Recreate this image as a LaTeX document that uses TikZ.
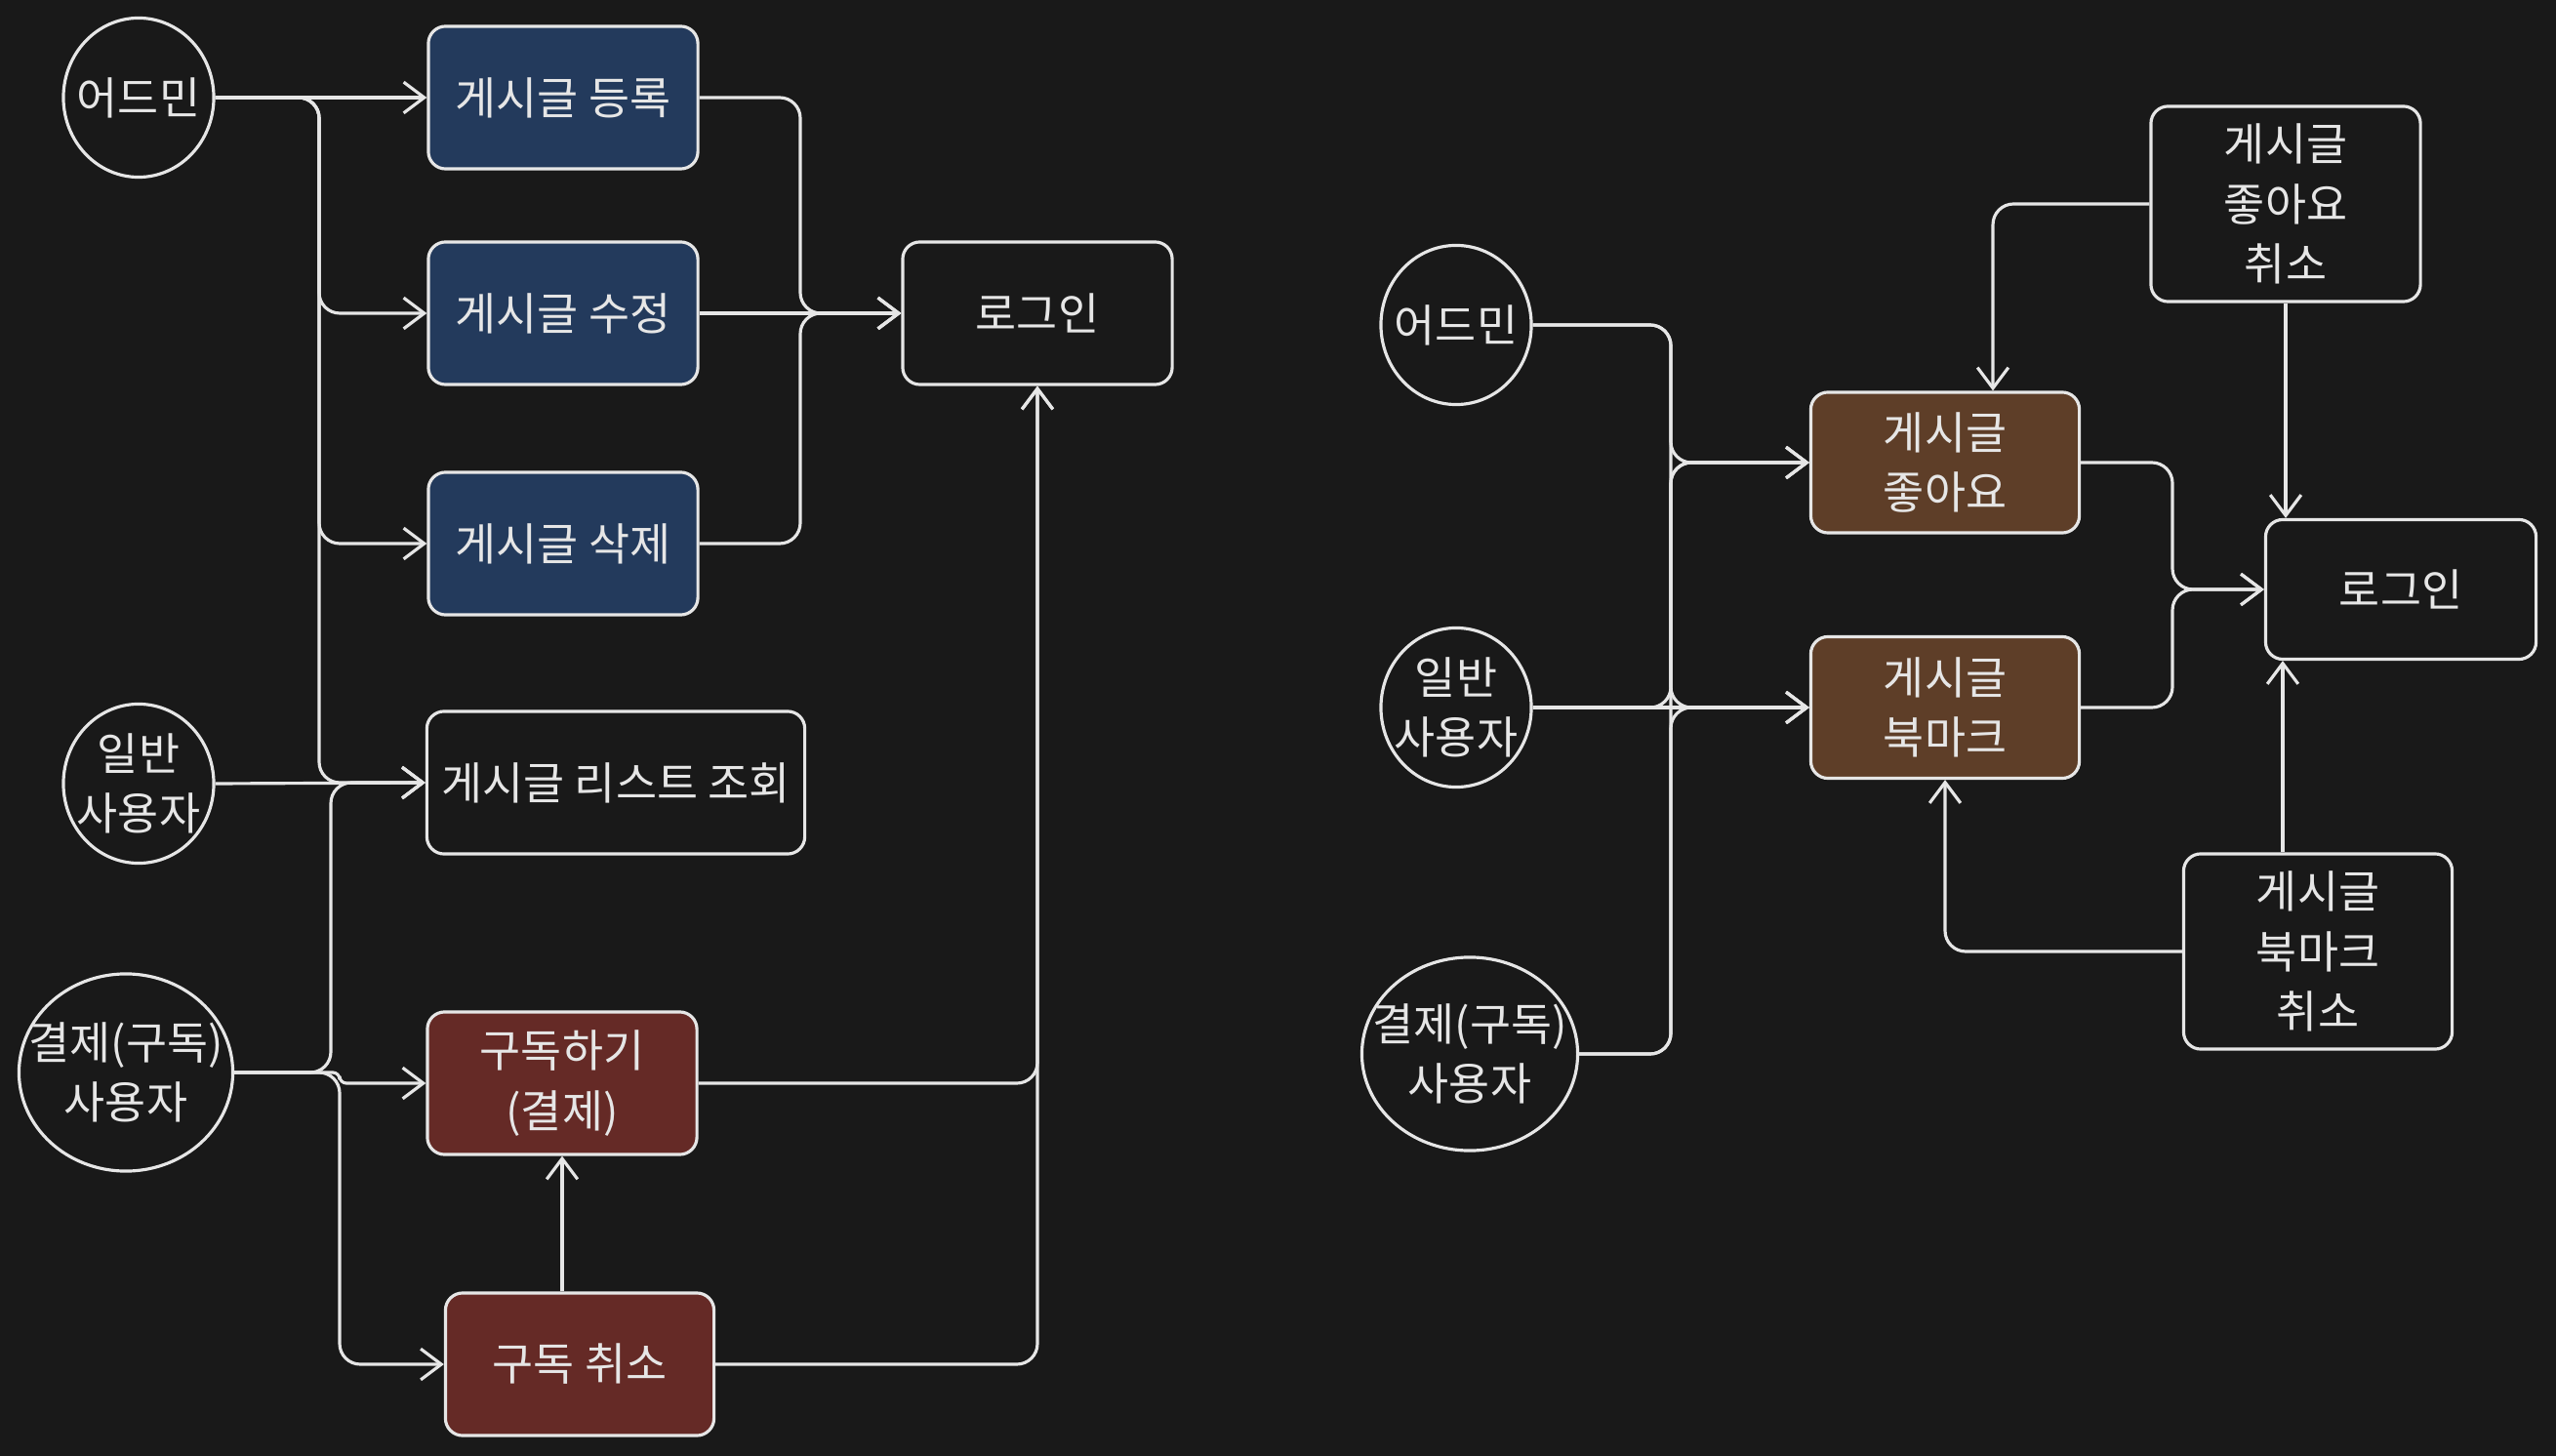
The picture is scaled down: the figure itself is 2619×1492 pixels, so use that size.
\documentclass[tikz,border=0pt]{standalone}
\usepackage{fontspec}
\setmainfont{Noto Sans CJK KR}
\usetikzlibrary{shapes.geometric, arrows.meta}
\definecolor{bgdark}{HTML}{191919}
\definecolor{ink}{HTML}{E6E6E6}
\definecolor{postblue}{HTML}{233A5C}
\definecolor{subred}{HTML}{652A26}
\definecolor{likebrown}{HTML}{5E3E28}
\newcommand{\zw}[1]{\makebox[0pt]{#1}} % testo a larghezza zero

\begin{document}
\begin{tikzpicture}[x=0.01cm, y=-0.01cm, >={Straight Barb[length=6pt,width=9pt]},
    every node/.style={text=ink, font=\fontsize{13}{17.5}\selectfont},
    box/.style={draw=ink, line width=0.9pt, rounded corners=5pt, inner sep=0pt, align=center,
        minimum width=2.76cm, minimum height=1.46cm},
    actor/.style={draw=ink, line width=0.9pt, ellipse, inner sep=0pt, align=center,
        minimum width=1.54cm, minimum height=1.63cm},
    flow/.style={->, draw=ink, line width=0.9pt, rounded corners=6pt}]

    % SFONDO
    \fill[bgdark] (0,0) rectangle (2619,1492);
    \useasboundingbox (0,0) rectangle (2619,1492);

    % 1. ATTORI (sinistra)
    \node[actor] (admin) at (142,100) {\zw{어드민}};
    \node[actor] (user) at (142,803) {\zw{일반}\\\zw{사용자}};
    \node[actor, minimum width=2.19cm, minimum height=2.02cm] (paid) at (129,1099) {\zw{결제(구독)}\\\zw{사용자}};

    % 2. AZIONI (sinistra)
    \node[box, fill=postblue] (post) at (577,100) {게시글 등록};
    \node[box, fill=postblue] (edit) at (577,321) {게시글 수정};
    \node[box, fill=postblue] (del) at (577,557) {게시글 삭제};
    \node[box, minimum width=3.87cm] (list) at (631,802) {게시글 리스트 조회};
    \node[box, fill=subred] (sub) at (576,1110) {구독하기\\(결제)};
    \node[box, fill=subred, minimum width=2.75cm] (cancel) at (594,1398) {구독 취소};
    \node[box] (login) at (1063,321) {로그인};

    % Bus verticali
    \coordinate (adminbus) at (327,0);
    \coordinate (paidbusA) at (339,0);
    \coordinate (paidbusB) at (348,0);
    \coordinate (mergeL) at (820,0);

    % 3. FRECCE (sinistra)
    \draw[flow] (admin.east) -- (post.west);
    \draw[flow] (admin.east) -| (adminbus |- edit.west) -- (edit.west);
    \draw[flow] (admin.east) -| (adminbus |- del.west) -- (del.west);
    \draw[flow] (admin.east) -| (adminbus |- list.west) -- (list.west);
    \draw[flow] (user.east) -- (list.west);
    \draw[flow] (paid.east) -| (paidbusA |- list.west) -- (list.west);
    \draw[flow, rounded corners=2pt] (paid.east) -| (paidbusB |- sub.west) -- (sub.west);
    \draw[flow] (paid.east) -| (paidbusB |- cancel.west) -- (cancel.west);
    \draw[flow] (post.east) -| (mergeL |- login.west) -- (login.west);
    \draw[flow] (edit.east) -- (login.west);
    \draw[flow] (del.east) -| (mergeL |- login.west) -- (login.west);
    \draw[flow] (sub.east) -| (login.south);
    \draw[flow] (cancel.east) -| (login.south);
    \draw[flow] (cancel.north -| sub.south) -- (sub.south);

    % 4. ATTORI (destra)
    \node[actor] (admin2) at (1492,333) {\zw{어드민}};
    \node[actor] (user2) at (1492,725) {\zw{일반}\\\zw{사용자}};
    \node[actor, minimum width=2.21cm, minimum height=1.98cm] (paid2) at (1506,1080) {\zw{결제(구독)}\\\zw{사용자}};

    % 5. AZIONI (destra)
    \node[box, fill=likebrown, minimum width=2.75cm, minimum height=1.44cm] (like) at (1993,474) {게시글\\좋아요};
    \node[box, fill=likebrown, minimum width=2.75cm, minimum height=1.45cm] (mark) at (1993,725) {게시글\\북마크};
    \node[box, minimum height=2.0cm] (likeoff) at (2342,209) {게시글\\좋아요\\취소};
    \node[box, minimum width=2.75cm, minimum height=2.0cm] (markoff) at (2375,975) {게시글\\북마크\\취소};
    \node[box, minimum width=2.77cm, minimum height=1.43cm] (login2) at (2460,604) {로그인};

    \coordinate (busR) at (1712,0);
    \coordinate (mergeR) at (2226,0);
    \coordinate (likein) at ([xshift=4.9mm]like.north);
    \coordinate (markoffup) at ([xshift=-3.6mm]markoff.north);

    % 6. FRECCE (destra)
    \draw[flow] (admin2.east) -| (busR |- like.west) -- (like.west);
    \draw[flow] (admin2.east) -| (busR |- mark.west) -- (mark.west);
    \draw[flow] (user2.east) -| (busR |- like.west) -- (like.west);
    \draw[flow] (user2.east) -- (mark.west);
    \draw[flow] (paid2.east) -| (busR |- like.west) -- (like.west);
    \draw[flow] (paid2.east) -| (busR |- mark.west) -- (mark.west);
    \draw[flow] (like.east) -| (mergeR |- login2.west) -- (login2.west);
    \draw[flow] (mark.east) -| (mergeR |- login2.west) -- (login2.west);
    \draw[flow] (likeoff.west) -| (likein);
    \draw[flow] (likeoff.south) -- (likeoff.south |- login2.north);
    \draw[flow] (markoff.west) -| (mark.south);
    \draw[flow] (markoffup) -- (markoffup |- login2.south);

\end{tikzpicture}
\end{document}
